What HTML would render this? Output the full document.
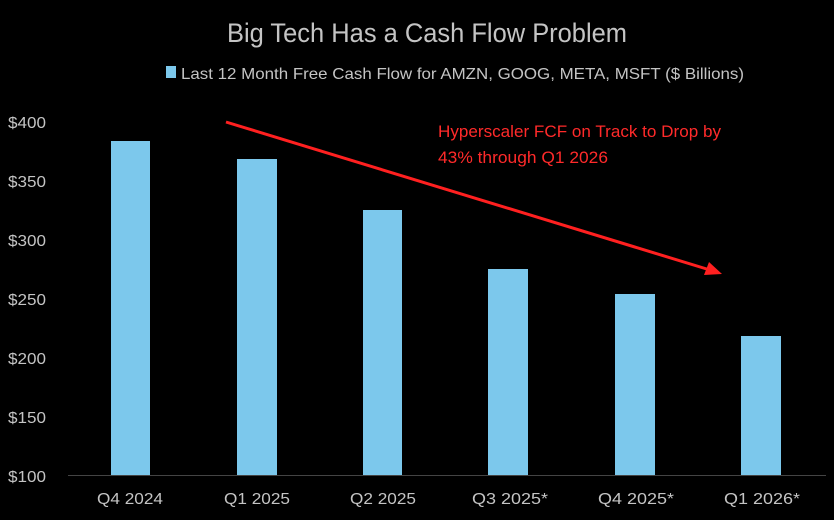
<!DOCTYPE html>
<html><head><meta charset="utf-8"><style>
body{margin:0;background:#000;width:834px;height:515px;overflow:hidden}
svg text{font-family:"Liberation Sans",sans-serif}
</style></head><body>
<svg width="834" height="515" viewBox="0 0 834 515">
<rect width="834" height="515" fill="#000"/>
<text x="427" y="42" text-anchor="middle" fill="#c4c4c4" font-size="27" textLength="400" lengthAdjust="spacingAndGlyphs">Big Tech Has a Cash Flow Problem</text>
<rect x="166" y="66" width="10" height="12" fill="#7cc8ec"/>
<text x="181" y="79" fill="#c4c4c4" font-size="16" textLength="563" lengthAdjust="spacingAndGlyphs">Last 12 Month Free Cash Flow for AMZN, GOOG, META, MSFT ($ Billions)</text>
<g fill="#c4c4c4" font-size="16" text-anchor="end">
<text x="46" y="128" textLength="38" lengthAdjust="spacingAndGlyphs">$400</text>
<text x="46" y="187" textLength="38" lengthAdjust="spacingAndGlyphs">$350</text>
<text x="46" y="246" textLength="38" lengthAdjust="spacingAndGlyphs">$300</text>
<text x="46" y="305" textLength="38" lengthAdjust="spacingAndGlyphs">$250</text>
<text x="46" y="364" textLength="38" lengthAdjust="spacingAndGlyphs">$200</text>
<text x="46" y="423" textLength="38" lengthAdjust="spacingAndGlyphs">$150</text>
<text x="46" y="482" textLength="38" lengthAdjust="spacingAndGlyphs">$100</text>
</g>
<line x1="68" y1="475.5" x2="826" y2="475.5" stroke="#444" stroke-width="1"/>
<g fill="#7cc8ec">
<rect x="111" y="141" width="39" height="334"/>
<rect x="237" y="159" width="40" height="316"/>
<rect x="363" y="210" width="39" height="265"/>
<rect x="488" y="269" width="40" height="206"/>
<rect x="615" y="294" width="40" height="181"/>
<rect x="741" y="336" width="40" height="139"/>
</g>
<g fill="#c4c4c4" font-size="16" text-anchor="middle">
<text x="130" y="504" textLength="66" lengthAdjust="spacingAndGlyphs">Q4 2024</text>
<text x="257" y="504" textLength="66" lengthAdjust="spacingAndGlyphs">Q1 2025</text>
<text x="383" y="504" textLength="66" lengthAdjust="spacingAndGlyphs">Q2 2025</text>
<text x="510" y="504" textLength="76" lengthAdjust="spacingAndGlyphs">Q3 2025*</text>
<text x="636" y="504" textLength="76" lengthAdjust="spacingAndGlyphs">Q4 2025*</text>
<text x="762" y="504" textLength="76" lengthAdjust="spacingAndGlyphs">Q1 2026*</text>
</g>
<line x1="226" y1="122" x2="710" y2="270" stroke="#ff2020" stroke-width="3"/>
<polygon points="722,274 704,275 709,262" fill="#ff2020"/>
<g fill="#ff2a2a" font-size="17">
<text x="438" y="137" textLength="283" lengthAdjust="spacingAndGlyphs">Hyperscaler FCF on Track to Drop by</text>
<text x="438" y="163" textLength="170" lengthAdjust="spacingAndGlyphs">43% through Q1 2026</text>
</g>
</svg>
</body></html>
